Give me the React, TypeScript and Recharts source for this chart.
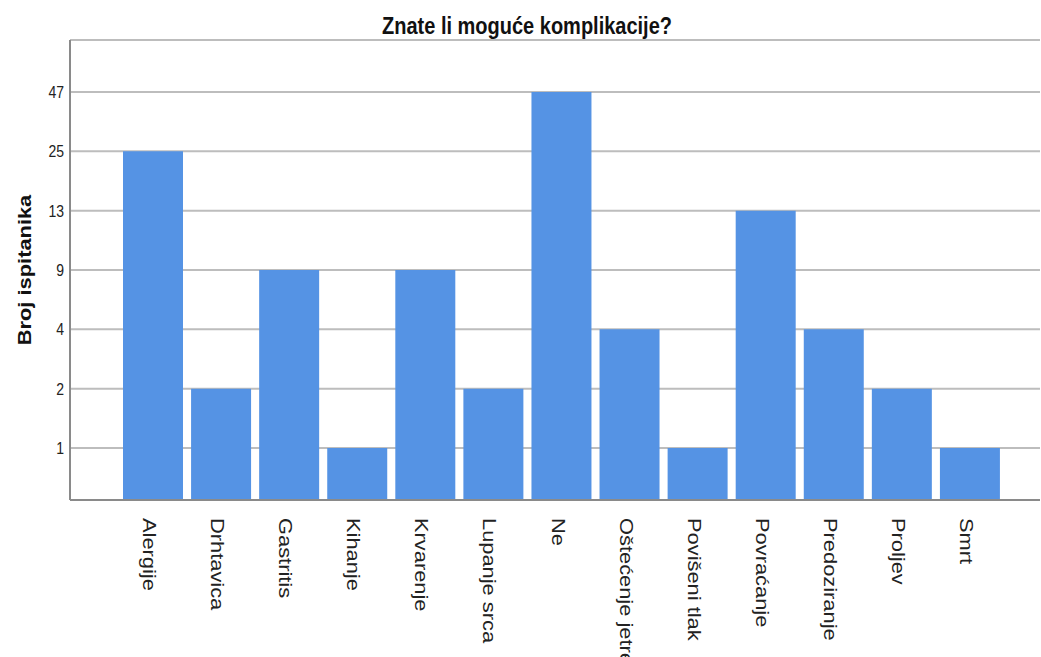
import { BarChart, Bar, XAxis, YAxis, CartesianGrid } from "recharts";

const categories = [
  "Alergije",
  "Drhtavica",
  "Gastritis",
  "Kihanje",
  "Krvarenje",
  "Lupanje srca",
  "Ne",
  "Oštećenje jetre",
  "Povišeni tlak",
  "Povraćanje",
  "Predoziranje",
  "Proljev",
  "Smrt",
];
const counts = [25, 2, 9, 1, 9, 2, 47, 4, 1, 13, 4, 2, 1];
// the y axis is ordinal: each distinct count gets an even step
const yTickLabels = [1, 2, 4, 9, 13, 25, 47];

const data = categories.map((name, i) => ({
  name,
  count: counts[i],
  level: yTickLabels.indexOf(counts[i]) + 1,
}));

const FONT = "'Liberation Sans', Arial, sans-serif";
const STRETCH = 1.15; // the source picture is a bit taller than wide

const XTick = (props: any) => {
  const { x, y, payload } = props;
  return (
    <text
      transform={`translate(${x - 10},${y + 10}) rotate(90) scale(${STRETCH},1)`}
      textAnchor="start"
      fontFamily={FONT}
      fontSize={19}
      fill="#222"
    >
      {payload.value}
    </text>
  );
};

const YTick = (props: any) => {
  const { x, y, payload } = props;
  return (
    <text
      transform={`translate(${x},${y + 6}) scale(1,${STRETCH})`}
      textAnchor="end"
      fontFamily={FONT}
      fontSize={14}
      fill="#222"
    >
      {yTickLabels[payload.value - 1]}
    </text>
  );
};

export default function App() {
  return (
    <div style={{ position: "absolute", left: 0, top: 0, width: 1041, height: 657, background: "#fff" }}>
      <BarChart
        width={1041}
        height={657}
        data={data}
        margin={{ top: 40, right: 1, bottom: 7, left: 10 }}
      >
        <CartesianGrid vertical={false} stroke="#bdbdbd" strokeWidth={2} />
        <XAxis
          dataKey="name"
          interval={0}
          height={150}
          padding={{ left: 49, right: 36 }}
          axisLine={{ stroke: "#8a8a8a", strokeWidth: 2 }}
          tickLine={false}
          tick={<XTick />}
        />
        <YAxis
          type="number"
          width={60}
          domain={[0.124, 7.876]}
          ticks={[1, 2, 3, 4, 5, 6, 7]}
          allowDataOverflow
          axisLine={{ stroke: "#8a8a8a", strokeWidth: 2 }}
          tickLine={false}
          tickSize={0}
          tickMargin={6}
          tick={<YTick />}
        />
        <Bar dataKey="level" fill="#5593e4" barSize={60} isAnimationActive={false} />
      </BarChart>
      <svg
        width={1041}
        height={657}
        style={{ position: "absolute", left: 0, top: 0, pointerEvents: "none" }}
      >
        <text
          transform={`translate(527,34) scale(1,${STRETCH})`}
          textAnchor="middle"
          fontFamily={FONT}
          fontWeight="bold"
          fontSize={20}
          fill="#111"
        >
          Znate li moguće komplikacije?
        </text>
        <text
          transform={`translate(31,270) rotate(-90) scale(${STRETCH},1)`}
          textAnchor="middle"
          fontFamily={FONT}
          fontWeight="bold"
          fontSize={19}
          fill="#111"
        >
          Broj ispitanika
        </text>
      </svg>
    </div>
  );
}
